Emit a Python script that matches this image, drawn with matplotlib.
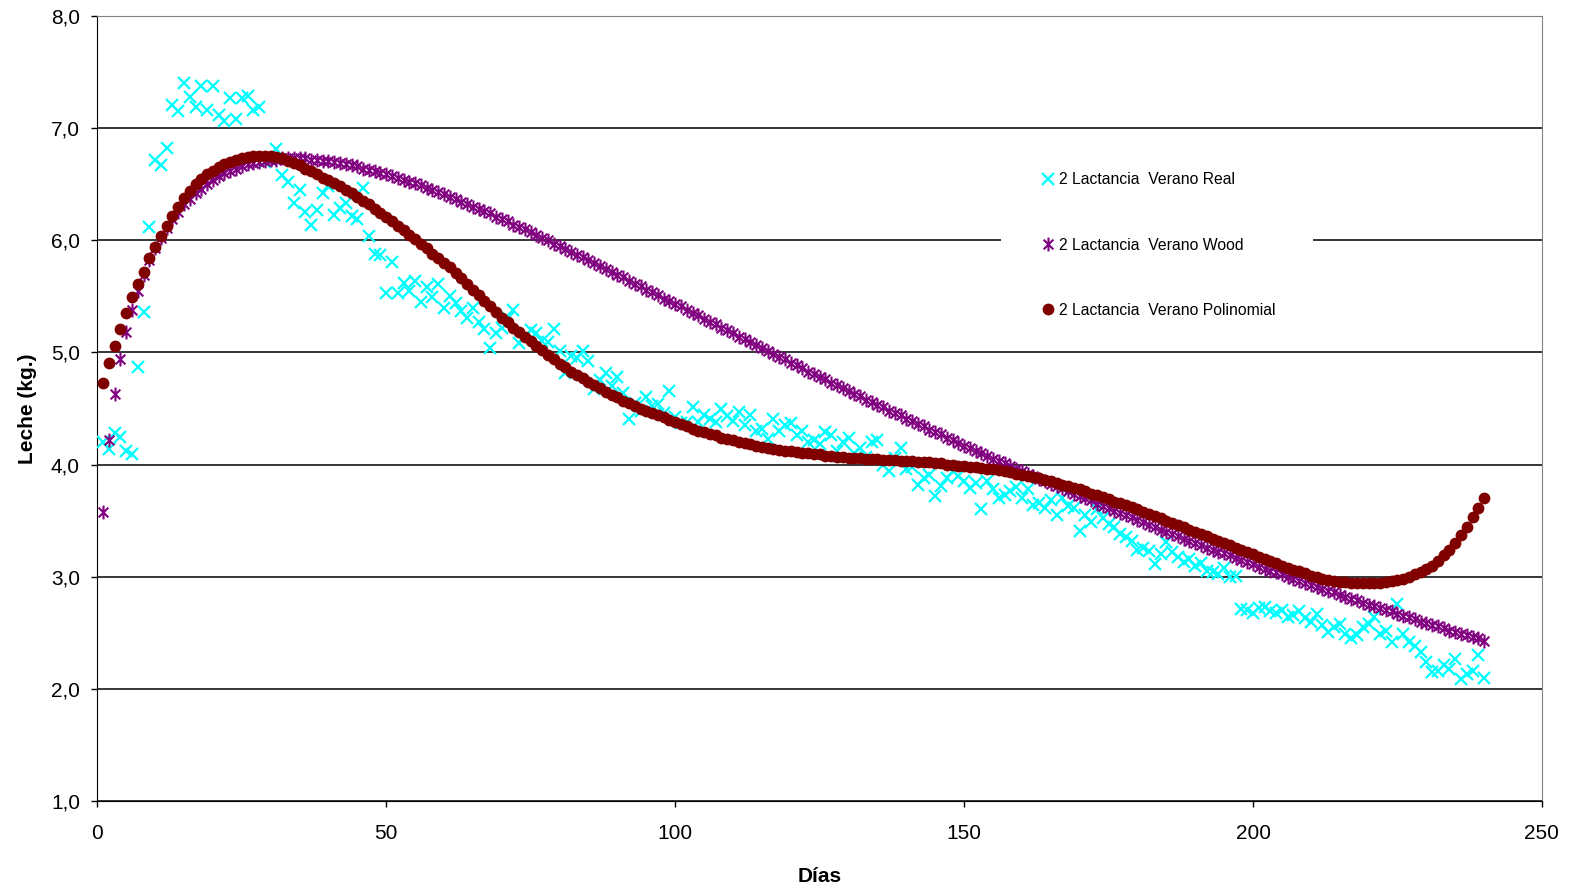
import matplotlib
matplotlib.use("Agg")
import matplotlib.pyplot as plt
from matplotlib.path import Path
from matplotlib.patches import Rectangle
from matplotlib.ticker import FuncFormatter

plt.rcParams["font.family"] = ["Liberation Sans", "DejaVu Sans"]

# Días de lactancia 1..240
dias = list(range(1, 241))

real = [
    4.20, 4.14, 4.28, 4.25, 4.12, 4.09, 4.87, 5.36, 6.12, 6.72,
    6.67, 6.82, 7.21, 7.15, 7.40, 7.28, 7.19, 7.38, 7.16, 7.38,
    7.12, 7.06, 7.27, 7.08, 7.27, 7.29, 7.16, 7.19, 6.70, 6.72,
    6.81, 6.58, 6.52, 6.33, 6.45, 6.25, 6.14, 6.27, 6.42, 6.48,
    6.23, 6.29, 6.33, 6.22, 6.19, 6.47, 6.04, 5.88, 5.87, 5.53,
    5.81, 5.53, 5.62, 5.55, 5.64, 5.45, 5.58, 5.49, 5.61, 5.40,
    5.50, 5.44, 5.37, 5.31, 5.40, 5.27, 5.21, 5.04, 5.17, 5.22,
    5.31, 5.38, 5.08, 5.15, 5.20, 5.17, 5.10, 5.09, 5.21, 5.01,
    4.82, 4.97, 4.95, 5.01, 4.92, 4.67, 4.75, 4.82, 4.70, 4.78,
    4.64, 4.41, 4.55, 4.48, 4.60, 4.52, 4.54, 4.46, 4.66, 4.42,
    4.37, 4.38, 4.51, 4.38, 4.44, 4.41, 4.38, 4.50, 4.43, 4.39,
    4.47, 4.35, 4.44, 4.30, 4.32, 4.23, 4.41, 4.30, 4.35, 4.37,
    4.26, 4.30, 4.20, 4.22, 4.18, 4.29, 4.26, 4.12, 4.20, 4.24,
    4.10, 4.15, 4.07, 4.20, 4.22, 4.00, 3.94, 4.06, 4.15, 3.96,
    3.98, 3.82, 3.88, 3.91, 3.72, 3.81, 3.88, 3.94, 3.90, 3.85,
    3.79, 3.84, 3.60, 3.85, 3.78, 3.70, 3.73, 3.76, 3.80, 3.70,
    3.78, 3.64, 3.66, 3.61, 3.68, 3.55, 3.70, 3.63, 3.61, 3.41,
    3.55, 3.49, 3.60, 3.52, 3.47, 3.44, 3.38, 3.35, 3.32, 3.24,
    3.26, 3.23, 3.11, 3.20, 3.31, 3.22, 3.18, 3.13, 3.16, 3.10,
    3.12, 3.05, 3.04, 3.02, 3.08, 3.00, 3.01, 2.71, 2.70, 2.68,
    2.72, 2.73, 2.69, 2.68, 2.70, 2.64, 2.66, 2.69, 2.63, 2.60,
    2.67, 2.57, 2.51, 2.55, 2.58, 2.49, 2.45, 2.48, 2.55, 2.58,
    2.64, 2.49, 2.52, 2.42, 2.76, 2.49, 2.42, 2.38, 2.33, 2.24,
    2.15, 2.16, 2.21, 2.18, 2.27, 2.09, 2.13, 2.16, 2.30, 2.10,
]

wood = [
    3.58, 4.22, 4.63, 4.94, 5.18, 5.38, 5.55, 5.69, 5.82, 5.93,
    6.02, 6.11, 6.19, 6.25, 6.32, 6.37, 6.42, 6.46, 6.50, 6.54,
    6.57, 6.60, 6.62, 6.64, 6.66, 6.68, 6.69, 6.70, 6.71, 6.72,
    6.72, 6.73, 6.73, 6.73, 6.73, 6.73, 6.72, 6.72, 6.71, 6.71,
    6.70, 6.69, 6.68, 6.67, 6.66, 6.64, 6.63, 6.62, 6.60, 6.59,
    6.57, 6.56, 6.54, 6.52, 6.51, 6.49, 6.47, 6.45, 6.43, 6.41,
    6.39, 6.37, 6.34, 6.32, 6.30, 6.28, 6.26, 6.24, 6.21, 6.19,
    6.17, 6.14, 6.12, 6.10, 6.07, 6.05, 6.02, 6.00, 5.97, 5.95,
    5.92, 5.90, 5.87, 5.85, 5.82, 5.80, 5.77, 5.74, 5.72, 5.69,
    5.67, 5.64, 5.61, 5.59, 5.56, 5.54, 5.51, 5.48, 5.46, 5.43,
    5.41, 5.38, 5.35, 5.33, 5.30, 5.27, 5.25, 5.22, 5.20, 5.17,
    5.14, 5.12, 5.09, 5.07, 5.04, 5.01, 4.99, 4.96, 4.94, 4.91,
    4.89, 4.86, 4.83, 4.81, 4.78, 4.76, 4.73, 4.71, 4.68, 4.66,
    4.63, 4.61, 4.58, 4.56, 4.53, 4.51, 4.48, 4.46, 4.44, 4.41,
    4.39, 4.36, 4.34, 4.31, 4.29, 4.27, 4.24, 4.22, 4.19, 4.17,
    4.15, 4.12, 4.10, 4.08, 4.05, 4.03, 4.01, 3.99, 3.96, 3.94,
    3.92, 3.90, 3.87, 3.85, 3.83, 3.81, 3.79, 3.76, 3.74, 3.72,
    3.70, 3.68, 3.65, 3.63, 3.61, 3.59, 3.57, 3.55, 3.53, 3.51,
    3.49, 3.46, 3.44, 3.42, 3.40, 3.38, 3.36, 3.34, 3.32, 3.30,
    3.28, 3.26, 3.24, 3.22, 3.21, 3.19, 3.17, 3.15, 3.13, 3.11,
    3.09, 3.07, 3.05, 3.04, 3.02, 3.00, 2.98, 2.96, 2.94, 2.93,
    2.91, 2.89, 2.87, 2.86, 2.84, 2.82, 2.80, 2.79, 2.77, 2.75,
    2.74, 2.72, 2.70, 2.69, 2.67, 2.65, 2.64, 2.62, 2.60, 2.59,
    2.57, 2.56, 2.54, 2.52, 2.51, 2.49, 2.48, 2.46, 2.45, 2.43,
]

polinomial = [
    4.73, 4.91, 5.06, 5.21, 5.35, 5.49, 5.61, 5.72, 5.84, 5.94,
    6.04, 6.13, 6.22, 6.30, 6.38, 6.44, 6.50, 6.55, 6.59, 6.62,
    6.65, 6.68, 6.70, 6.72, 6.73, 6.74, 6.75, 6.75, 6.75, 6.75,
    6.74, 6.73, 6.71, 6.69, 6.67, 6.64, 6.62, 6.59, 6.56, 6.54,
    6.51, 6.48, 6.45, 6.42, 6.39, 6.35, 6.32, 6.28, 6.24, 6.21,
    6.17, 6.13, 6.09, 6.05, 6.01, 5.97, 5.93, 5.88, 5.84, 5.80,
    5.76, 5.71, 5.66, 5.61, 5.56, 5.51, 5.46, 5.41, 5.36, 5.31,
    5.27, 5.22, 5.18, 5.14, 5.10, 5.06, 5.02, 4.98, 4.94, 4.90,
    4.87, 4.83, 4.80, 4.77, 4.74, 4.71, 4.68, 4.65, 4.62, 4.60,
    4.57, 4.55, 4.52, 4.50, 4.48, 4.46, 4.44, 4.42, 4.40, 4.38,
    4.36, 4.34, 4.32, 4.30, 4.29, 4.27, 4.26, 4.24, 4.23, 4.22,
    4.20, 4.19, 4.18, 4.17, 4.16, 4.15, 4.14, 4.13, 4.12, 4.12,
    4.11, 4.10, 4.10, 4.09, 4.09, 4.08, 4.08, 4.07, 4.07, 4.06,
    4.06, 4.06, 4.05, 4.05, 4.05, 4.04, 4.04, 4.04, 4.03, 4.03,
    4.03, 4.02, 4.02, 4.02, 4.01, 4.01, 4.00, 4.00, 3.99, 3.99,
    3.98, 3.98, 3.97, 3.96, 3.96, 3.95, 3.94, 3.93, 3.92, 3.91,
    3.90, 3.89, 3.88, 3.86, 3.85, 3.84, 3.82, 3.81, 3.79, 3.78,
    3.76, 3.74, 3.73, 3.71, 3.69, 3.67, 3.66, 3.64, 3.62, 3.60,
    3.58, 3.56, 3.54, 3.52, 3.50, 3.48, 3.46, 3.44, 3.42, 3.40,
    3.38, 3.36, 3.34, 3.32, 3.30, 3.28, 3.26, 3.24, 3.22, 3.20,
    3.18, 3.16, 3.14, 3.12, 3.10, 3.08, 3.06, 3.05, 3.03, 3.01,
    3.00, 2.98, 2.97, 2.96, 2.95, 2.95, 2.94, 2.94, 2.94, 2.94,
    2.94, 2.94, 2.95, 2.96, 2.97, 2.98, 3.00, 3.02, 3.04, 3.07,
    3.10, 3.14, 3.19, 3.24, 3.30, 3.37, 3.44, 3.53, 3.61, 3.70,
]

# marcador "estrella" estilo Excel: X + barra vertical
estrella = Path(
    [(-0.7, -0.7), (0.7, 0.7), (-0.7, 0.7), (0.7, -0.7), (0, -1), (0, 1)],
    [Path.MOVETO, Path.LINETO, Path.MOVETO, Path.LINETO, Path.MOVETO, Path.LINETO],
)

fig = plt.figure(figsize=(15.75, 8.9), dpi=100)
ax = fig.add_axes([0.0618, 0.1, 0.9172, 0.882])

ax.plot(dias, real, ls="none", marker="x", color="#00FFFF", ms=8.5, mew=1.6,
        label="2 Lactancia  Verano Real", zorder=3)
ax.plot(dias, wood, ls="none", marker=estrella, color="#800080", ms=10, mew=1.5,
        label="2 Lactancia  Verano Wood", zorder=4)
ax.plot(dias, polinomial, ls="none", marker="o", color="#800000", ms=8.5, mew=0,
        label="2 Lactancia  Verano Polinomial", zorder=5)

ax.set_xlim(0, 250)
ax.set_ylim(1, 8)
ax.set_xticks(range(0, 251, 50))
ax.set_yticks(range(1, 9))
ax.yaxis.set_major_formatter(FuncFormatter(lambda v, p: f"{v:.1f}".replace(".", ",")))
ax.grid(axis="y", color="black", lw=1.1)
ax.set_axisbelow(True)
ax.tick_params(direction="out", length=4.5, width=1, labelsize=15)
ax.tick_params(axis="y", pad=8)
ax.tick_params(axis="x", pad=12)
for s in ["top", "right"]:
    ax.spines[s].set_color("#808080")
for s in ["left", "bottom"]:
    ax.spines[s].set_color("black")

ax.set_ylabel("Leche (kg.)", fontsize=15, fontweight="bold", labelpad=10)
ax.set_xlabel("Días", fontsize=15, fontweight="bold", labelpad=17)

# fondo blanco de la leyenda (tapa la línea de 6,0)
ax.add_patch(Rectangle((1001 / 1575, 1 - 335 / 890), 312 / 1575, 185 / 890,
                       transform=fig.transFigure, facecolor="white",
                       edgecolor="none", zorder=1))

leg = ax.legend(loc="center left", bbox_to_anchor=(1043 / 1575, 1 - 245 / 890),
                bbox_transform=fig.transFigure, fontsize=11.3, frameon=False,
                labelspacing=3.2, handlelength=0.6, handletextpad=0.4,
                borderpad=0, borderaxespad=0)

fig.savefig("out.png", dpi=100)
